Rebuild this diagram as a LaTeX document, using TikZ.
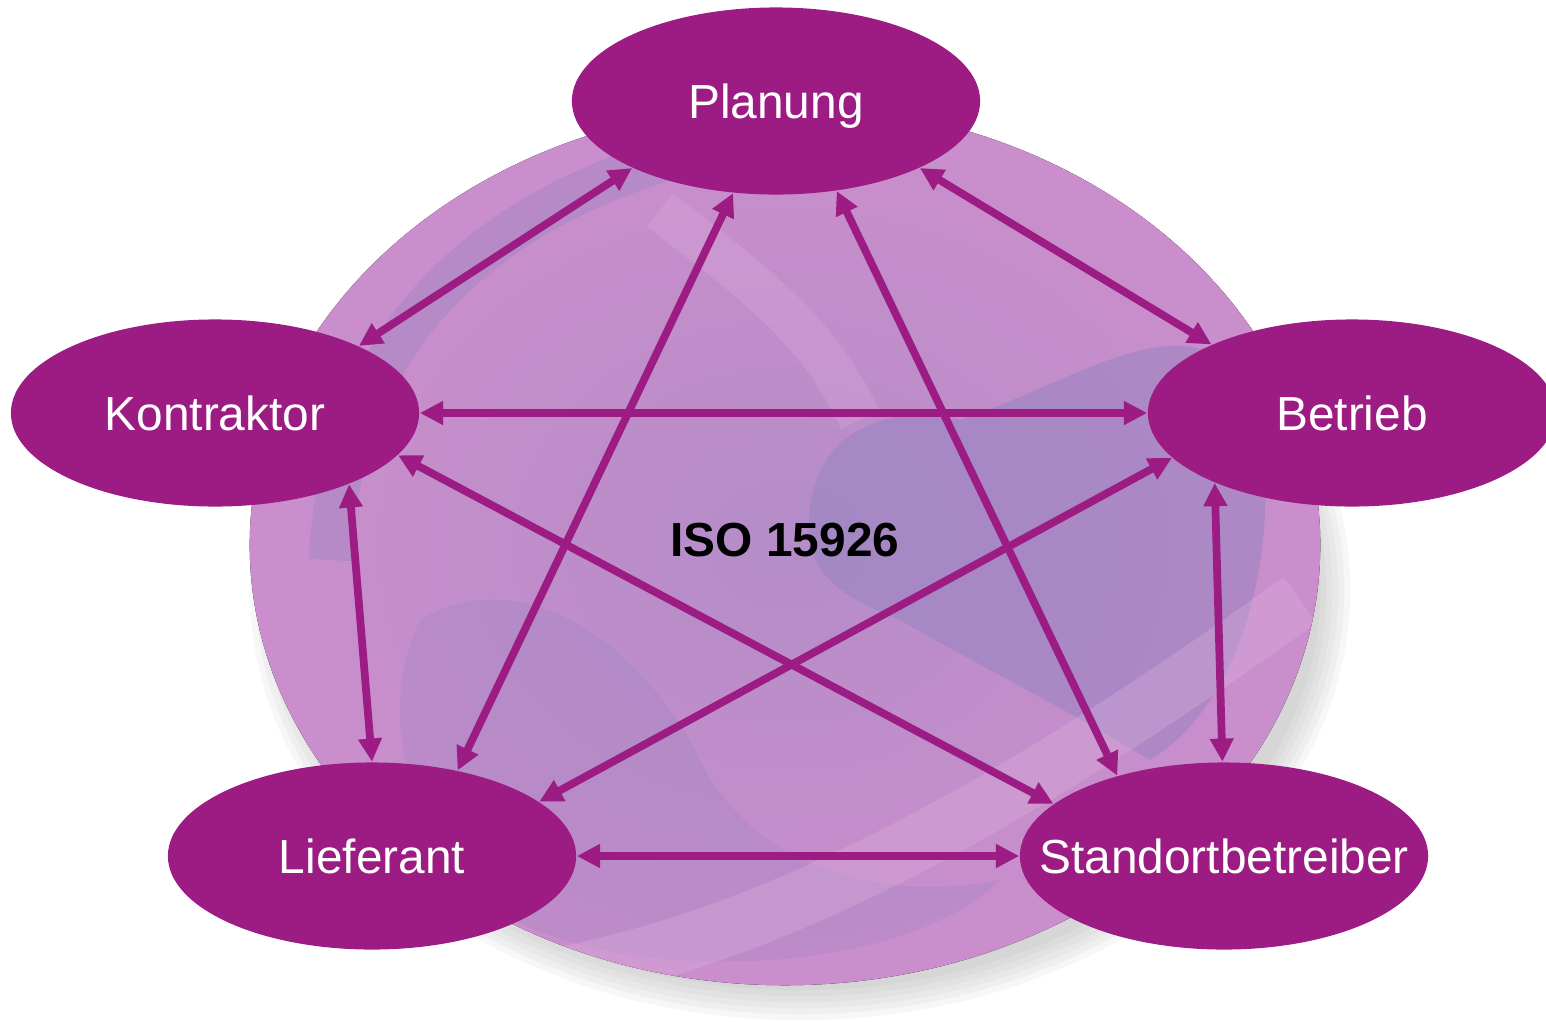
\documentclass[tikz,border=0pt]{standalone}
\usepackage{fontspec}
\setmainfont{Liberation Sans}
\usetikzlibrary{shapes.geometric,arrows.meta}
\definecolor{plum}{HTML}{9C1C84}
\definecolor{spherepink}{HTML}{CB8ECC}
\definecolor{spherelilac}{HTML}{B48DC8}
\definecolor{landblue}{HTML}{8E82BE}
\definecolor{lightband}{HTML}{E2B4E0}
\begin{document}
\begin{tikzpicture}[x=0.01cm,y=-0.01cm,
  role/.style={ellipse, fill=plum, minimum width=4.08cm, minimum height=1.87cm,
    inner sep=0pt, text height=0.42cm, text depth=0.08cm, text=white,
    font=\fontsize{13.6}{16}\selectfont},
  link/.style={draw=plum, line width=2.2pt,
    {Triangle[length=6.6pt,width=6.4pt]}-{Triangle[length=6.6pt,width=6.4pt]}},
  shadowfill/.style={fill=black!45, opacity=0.07}]
\useasboundingbox (0,0) rectangle (1546,1021);

% soft shadow of the sphere
\foreach \d in {0,6,12,18,24,30}{
  \fill[shadowfill] (800,590) ellipse [x radius={5.5cm-\d*0.01cm}, y radius={4.3cm-\d*0.01cm}];
}

% the sphere
\fill[shading=radial, inner color=spherelilac, outer color=spherepink]
  (785,545) ellipse [x radius=5.35cm, y radius=4.4cm];
\begin{scope}
  \clip (785,545) ellipse [x radius=5.35cm, y radius=4.4cm];
  % darker rim band upper left
  \draw[landblue, opacity=0.3, line width=12pt]
    (330,560) .. controls (340,350) and (470,210) .. (700,150);
  % continent right of centre
  \fill[landblue, opacity=0.45]
    (810,540) .. controls (800,440) and (880,400) .. (960,420)
    .. controls (1080,380) and (1180,300) .. (1250,380)
    .. controls (1290,520) and (1250,700) .. (1150,760)
    .. controls (1050,700) and (950,650) .. (900,620)
    .. controls (850,600) and (815,580) .. (810,540) -- cycle;
  % bluish area lower left
  \fill[landblue, opacity=0.22]
    (420,620) .. controls (520,560) and (640,640) .. (700,760)
    .. controls (760,880) and (900,900) .. (1000,880)
    .. controls (900,980) and (600,990) .. (480,900)
    .. controls (400,820) and (380,700) .. (420,620) -- cycle;
  % light swoosh bands
  \draw[lightband, opacity=0.3, line width=16pt]
    (560,975) .. controls (800,930) and (1050,780) .. (1300,600);
  \draw[lightband, opacity=0.25, line width=12pt]
    (660,210) .. controls (750,280) and (820,330) .. (860,420);
\end{scope}

% label in the centre
\node[font=\fontsize{13.6}{16}\selectfont\bfseries, text=black] (iso) at (785,540) {ISO 15926};

% the five parties
\node[role] (plan) at (776,101) {Planung};
\node[role] (kon)  at (215,413) {Kontraktor};
\node[role] (bet)  at (1352,413) {Betrieb};
\node[role] (lief) at (372,856) {Lieferant};
\node[role, inner xsep=-0.42cm] (std) at (1224,856) {Standortbetreiber};

% connectors
\draw[link] (plan.205) -- (kon.25);
\draw[link] (plan.335) -- (bet.154);
\draw[link] (plan.245) -- (lief.45);
\draw[link] (plan.304) -- (std.143);
\draw[link] (kon.0)   -- (bet.180);
\draw[link] (kon.347) -- (std.163);
\draw[link] (kon.332) -- (lief.90);
\draw[link] (bet.194) -- (lief.18);
\draw[link] (bet.207) -- (std.91);
\draw[link] (lief.0)  -- (std.180);
\end{tikzpicture}
\end{document}
